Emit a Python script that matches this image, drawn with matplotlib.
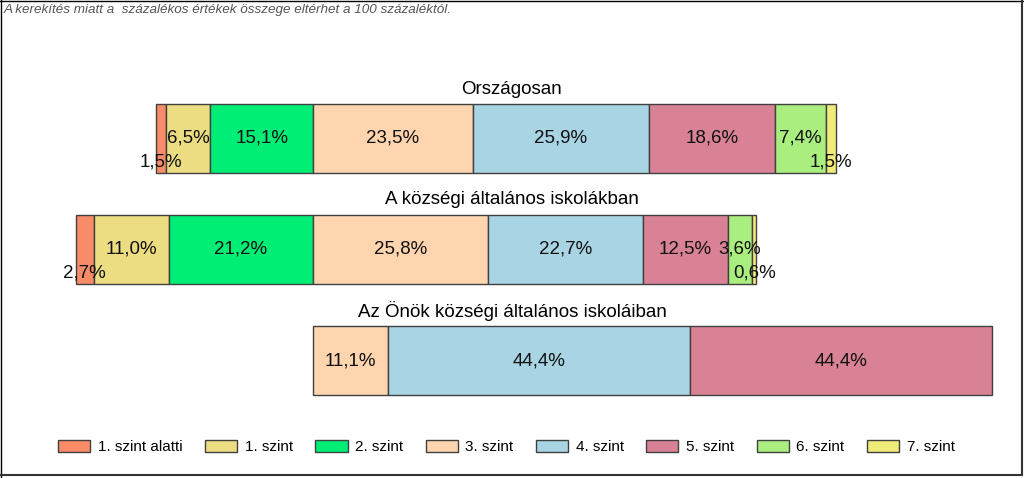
import matplotlib
matplotlib.use("Agg")
import matplotlib.pyplot as plt
from matplotlib.patches import Rectangle
from matplotlib.lines import Line2D

plt.rcParams['font.family'] = ['Liberation Sans', 'DejaVu Sans']

groups = ["Országosan", "A községi általános iskolákban", "Az Önök községi általános iskoláiban"]
levels = ["1. szint alatti", "1. szint", "2. szint", "3. szint", "4. szint", "5. szint", "6. szint", "7. szint"]
orszagos = [1.5, 6.5, 15.1, 23.5, 25.9, 18.6, 7.4, 1.5]
kozsegi = [2.7, 11.0, 21.2, 25.8, 22.7, 12.5, 3.6, 0.6]
onok = [0, 0, 0, 11.1, 44.4, 44.4, 0, 0]
colors = ["#F98C68", "#ECDC82", "#00EE76", "#FFD5B0", "#A8D4E4", "#D98296", "#AAEE80", "#F0EC78"]
note = "A kerekítés miatt a  százalékos értékek összege eltérhet a 100 százaléktól."

W, H = 1024, 478
fig = plt.figure(figsize=(W / 100, H / 100), dpi=100)
ax = fig.add_axes([0, 0, 1, 1])
ax.axis('off')

x0px = 313.0
pxper = 6.8
ax.set_xlim(-x0px / pxper, (W - x0px) / pxper)
ypx0, ystep = 138.5, 111.0
ax.set_ylim((H - ypx0) / ystep, -ypx0 / ystep)

data = [orszagos, kozsegi, onok]
bar_h = 69 / ystep
for gi, vals in enumerate(data):
    left = -sum(vals[:3])
    for li, v in enumerate(vals):
        if v > 0:
            ax.barh(gi, v, left=left, height=bar_h, color=colors[li],
                    edgecolor="#404040", linewidth=1.0)
            yl = gi + (0.215 if v < 3 else 0.0)
            ax.text(left + v / 2, yl, f"{v:.1f}".replace(".", ",") + "%",
                    ha="center", va="center", fontsize=13.5, color="#111111")
        left += v
    fig.text(0.5, 1 - (ypx0 + gi * ystep - 49.5) / H, groups[gi],
             ha="center", va="center", fontsize=13.5)

handles = [Rectangle((0, 0), 1, 1, facecolor=c, edgecolor="#404040", linewidth=1.0) for c in colors]
fig.legend(handles, levels, loc="center", bbox_to_anchor=(506.5 / W, 1 - 447 / H), ncol=8,
           frameon=False, fontsize=11, handlelength=2.1, handleheight=0.8,
           handletextpad=0.5, columnspacing=1.47)

fig.text(4 / W, 1 - 10 / H, note, ha="left", va="center", fontsize=9.7,
         style="italic", color="#555555")

# frame
fig.add_artist(Line2D([0.5 / W, 0.5 / W], [0, 1], transform=fig.transFigure, color="black", lw=1))
fig.add_artist(Line2D([0, 1], [1 - 0.5 / H, 1 - 0.5 / H], transform=fig.transFigure, color="black", lw=1))
fig.add_artist(Line2D([1021.5 / W, 1021.5 / W], [1 - 475 / H, 1], transform=fig.transFigure, color="#333333", lw=1.5))
fig.add_artist(Line2D([0, 1021.5 / W], [1 - 474.5 / H, 1 - 474.5 / H], transform=fig.transFigure, color="#333333", lw=1.5))

fig.savefig("out.png", dpi=100)
